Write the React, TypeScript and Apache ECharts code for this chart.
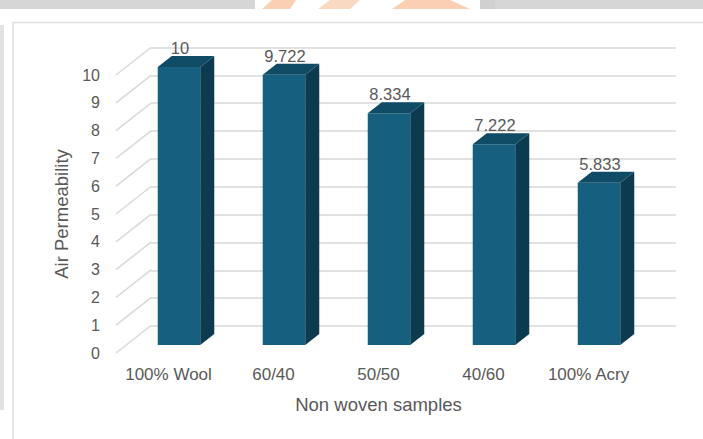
import React, { useEffect, useRef } from "react";
import * as echarts from "echarts";

const categories = ["100% Wool", "60/40", "50/50", "40/60", "100% Acry"];
const values = [10, 9.722, 8.334, 7.222, 5.833];
const valueLabels = ["10", "9.722", "8.334", "7.222", "5.833"];
const yTicks = [0, 1, 2, 3, 4, 5, 6, 7, 8, 9, 10];

const FONT = "'Liberation Sans', Arial, sans-serif";
const TEXT = "#595959";
const GRID_LINE = "#d9d9d9";
const FRONT = "#165f7e";
const TOP = "#104b65";
const SIDE = "#0c3b50";
// depth of the chart box (front plane -> back wall)
const DX = 35;
const DY = -27.5;
// bar depth
const BDX = 14;
const BDY = -11;

export default function App() {
  const ref = useRef<HTMLDivElement>(null);
  useEffect(() => {
    if (!ref.current) return;
    const chart = echarts.init(ref.current, null, { renderer: "svg" });
    const option: any = {
      animation: false,
      backgroundColor: "#ffffff",
      textStyle: { fontFamily: FONT },
      graphic: [
        { type: "rect", z: -10, shape: { x: 0, y: 0, width: 703, height: 9 }, style: { fill: "#d6d6d6" } },
        { type: "rect", z: -9, shape: { x: 255, y: 0, width: 240, height: 9 }, style: { fill: "#ffffff" } },
        { type: "polygon", z: -8, shape: { points: [[262, 9], [272, 0], [296, 0], [290, 9]] }, style: { fill: "#f7a774", opacity: 0.55 } },
        { type: "polygon", z: -8, shape: { points: [[318, 9], [330, 0], [360, 0], [350, 9]] }, style: { fill: "#f6b488", opacity: 0.5 } },
        { type: "polygon", z: -8, shape: { points: [[392, 9], [405, 0], [450, 0], [470, 9]] }, style: { fill: "#f7a774", opacity: 0.55 } },
        { type: "rect", z: -8, shape: { x: 480, y: 0, width: 15, height: 9 }, style: { fill: "#d0d0d0" } },
        { type: "rect", z: -10, shape: { x: 0, y: 25, width: 4, height: 385 }, style: { fill: "#e2e2e2" } },
        { type: "rect", z: -7, shape: { x: 13, y: 22.5, width: 720, height: 440 }, style: { fill: "none", stroke: "#e0e0e0", lineWidth: 1.5 } },
      ],
      grid: [
        { left: 151, top: 47.5, width: 525, height: 278.5 },
        { left: 116, top: 75, width: 525, height: 278 },
      ],
      xAxis: [
        {
          gridIndex: 0, type: "category", data: categories,
          axisLine: { show: false }, axisTick: { show: false }, axisLabel: { show: false },
        },
        {
          gridIndex: 1, type: "category", data: categories,
          axisLine: { show: false }, axisTick: { show: false },
          axisLabel: { color: TEXT, fontSize: 17, margin: 13, fontFamily: FONT, interval: 0 },
          name: "Non woven samples", nameLocation: "middle", nameGap: 42,
          nameTextStyle: { color: TEXT, fontSize: 18.5, fontFamily: FONT },
        },
      ],
      yAxis: [
        {
          gridIndex: 0, type: "value", min: 0, max: 10, interval: 1,
          axisLine: { show: false }, axisTick: { show: false }, axisLabel: { show: false },
          splitLine: { show: true, lineStyle: { color: GRID_LINE, width: 1.5 } },
        },
        {
          gridIndex: 1, type: "value", min: 0, max: 10, interval: 1,
          axisLine: { show: false }, axisTick: { show: false }, splitLine: { show: false },
          axisLabel: { color: TEXT, fontSize: 16, margin: 16, fontFamily: FONT },
          name: "Air Permeability", nameLocation: "middle", nameGap: 43, nameRotate: 90,
          nameTextStyle: { color: TEXT, fontSize: 18.5, fontFamily: FONT },
        },
      ],
      series: [
        {
          type: "custom",
          name: "depthLines",
          xAxisIndex: 1, yAxisIndex: 1,
          data: yTicks.map((t) => [0, t]),
          silent: true,
          renderItem: (params: any, api: any) => {
            const x0 = params.coordSys.x;
            const y = api.coord([0, api.value(1)])[1];
            return {
              type: "line",
              shape: { x1: x0, y1: y, x2: x0 + DX, y2: y + DY },
              style: { stroke: GRID_LINE, lineWidth: 1.5 },
            };
          },
        },
        {
          type: "custom",
          name: "Air Permeability",
          xAxisIndex: 1, yAxisIndex: 1,
          data: values.map((v, i) => [i, v]),
          renderItem: (params: any, api: any) => {
            const i = api.value(0);
            const v = api.value(1);
            const base = api.coord([i, 0]);
            const top = api.coord([i, v]);
            const bw = api.size([1, 0])[0] * 0.405;
            const cx = base[0] + 10.5;
            const by = base[1] - 8;
            const ty = top[1] - 8;
            const l = cx - bw / 2;
            const r = cx + bw / 2;
            return {
              type: "group",
              children: [
                { type: "rect", shape: { x: l, y: ty, width: bw, height: by - ty }, style: { fill: FRONT } },
                { type: "polygon", shape: { points: [[r, by], [r + BDX, by + BDY], [r + BDX, ty + BDY], [r, ty]] }, style: { fill: SIDE } },
                { type: "polygon", shape: { points: [[l, ty], [l + BDX, ty + BDY], [r + BDX, ty + BDY], [r, ty]] }, style: { fill: TOP } },
                {
                  type: "text",
                  x: cx + 1, y: ty - 19,
                  style: {
                    text: valueLabels[params.dataIndex], fill: TEXT, fontSize: 16.5, fontFamily: FONT,
                    align: "center", verticalAlign: "middle",
                  },
                },
              ],
            };
          },
        },
      ],
    };
    chart.setOption(option);
    return () => chart.dispose();
  }, []);
  return (
    <div
      ref={ref}
      style={{ position: "absolute", left: 0, top: 0, width: 703, height: 439 }}
    />
  );
}
